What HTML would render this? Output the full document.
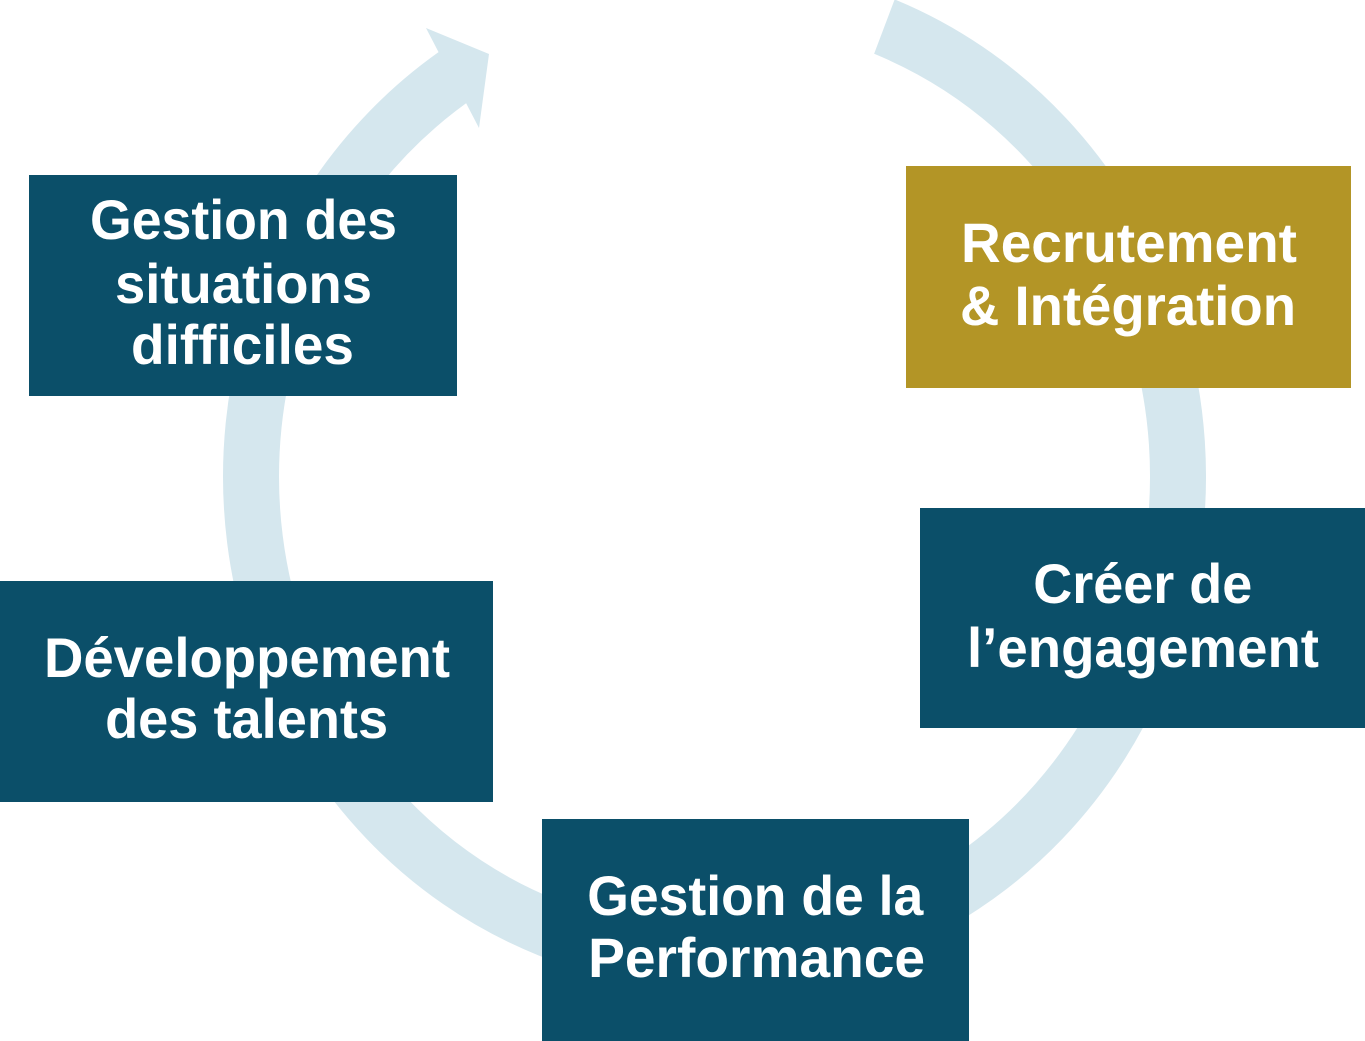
<!DOCTYPE html>
<html>
<head>
<meta charset="utf-8">
<style>
  html, body { margin: 0; padding: 0; background: #ffffff; }
  body { width: 1365px; height: 1041px; overflow: hidden; }
  svg { display: block; }
  text { font-family: "Liberation Sans", "DejaVu Sans", sans-serif; font-weight: bold; font-size: 56px; fill: #ffffff; }
</style>
</head>
<body>
<svg width="1365" height="1041" viewBox="0 0 1365 1041" xmlns="http://www.w3.org/2000/svg">
  <!-- cycle arc -->
  <g transform="translate(714.5 476.5) scale(1 1.0434)">
    <path d="M 169.9 -431.2 A 463.5 463.5 0 1 1 -252.4 -388.7" fill="none" stroke="#d5e7ee" stroke-width="56"/>
  </g>
  <!-- arrow head -->
  <polygon points="426,28 489,54 479,128 466,103 439,53" fill="#d5e7ee"/>

  <!-- Gestion des situations difficiles -->
  <rect x="29" y="175" width="428" height="221" fill="#0b4f69"/>
  <text x="243.5" y="239" text-anchor="middle" textLength="307" lengthAdjust="spacingAndGlyphs">Gestion des</text>
  <text x="243.5" y="303" text-anchor="middle" textLength="257" lengthAdjust="spacingAndGlyphs">situations</text>
  <text x="242.5" y="364" text-anchor="middle" textLength="223" lengthAdjust="spacingAndGlyphs">difficiles</text>

  <!-- Recrutement & Intégration -->
  <rect x="906" y="166" width="445" height="222" fill="#b39526"/>
  <text x="1129" y="262" text-anchor="middle" textLength="336" lengthAdjust="spacingAndGlyphs">Recrutement</text>
  <text x="1128" y="325" text-anchor="middle" textLength="336" lengthAdjust="spacingAndGlyphs">&amp; Intégration</text>

  <!-- Créer de l'engagement -->
  <rect x="920" y="508" width="445" height="220" fill="#0b4f69"/>
  <text x="1142.8" y="603" text-anchor="middle" textLength="219" lengthAdjust="spacingAndGlyphs">Créer de</text>
  <text x="1143" y="667" text-anchor="middle" textLength="352" lengthAdjust="spacingAndGlyphs">l’engagement</text>

  <!-- Développement des talents -->
  <rect x="0" y="581" width="493" height="221" fill="#0b4f69"/>
  <text x="247" y="677" text-anchor="middle" textLength="406" lengthAdjust="spacingAndGlyphs">Développement</text>
  <text x="246.6" y="738" text-anchor="middle" textLength="283" lengthAdjust="spacingAndGlyphs">des talents</text>

  <!-- Gestion de la Performance -->
  <rect x="542" y="819" width="427" height="222" fill="#0b4f69"/>
  <text x="755.3" y="915" text-anchor="middle" textLength="336" lengthAdjust="spacingAndGlyphs">Gestion de la</text>
  <text x="756.6" y="977" text-anchor="middle" textLength="337" lengthAdjust="spacingAndGlyphs">Performance</text>
</svg>
</body>
</html>
